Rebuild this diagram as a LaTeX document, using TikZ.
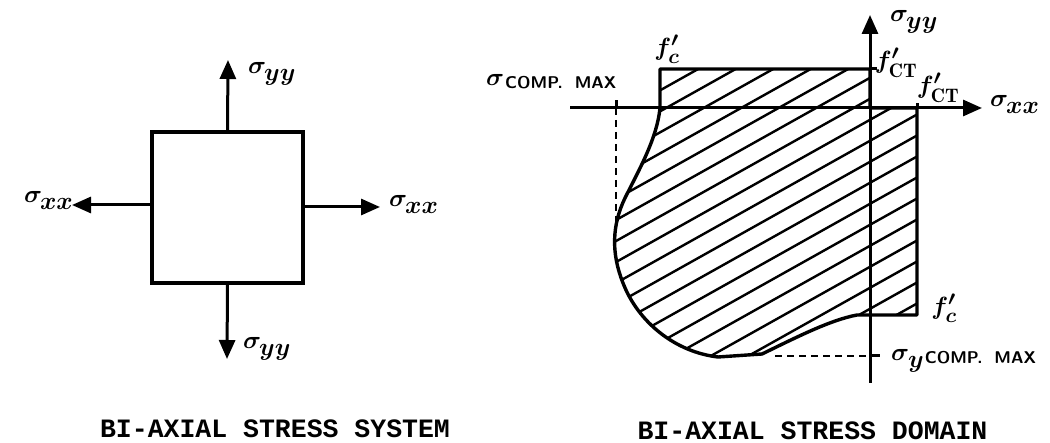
\documentclass[tikz,border=0pt]{standalone}
\usepackage{amsmath}
\usepackage{fontspec}
\setmonofont{Liberation Mono}
\usetikzlibrary{arrows.meta}
\newcommand\Sig[1]{{\fontsize{44}{44}\selectfont\boldmath$\sigma$}\kern-2pt\raisebox{-7pt}{\fontsize{30}{30}\selectfont\boldmath$#1$}}
\newcommand\Comp{\raisebox{-3pt}{\fontsize{17}{17}\selectfont\sffamily\bfseries COMP.\hspace{12pt}MAX}}
\begin{document}
\begin{tikzpicture}[x=1pt,y=-1pt,
  lbl/.style={inner sep=0pt},
  outl/.style={line width=3.4pt},
  hatchln/.style={line width=2.4pt},
  arrw/.style={line width=3pt,-{Triangle[length=19pt,width=16pt]}},
  captxt/.style={inner sep=0pt,font=\fontsize{26.5}{27}\selectfont\ttfamily\bfseries},
  tickln/.style={line width=3pt},
  dsh/.style={line width=2.4pt,dash pattern=on 7pt off 5pt}]
\useasboundingbox (0,0) rectangle (1050,443);

% ---------- left: bi-axial stress system ----------
\node[draw,outl,minimum width=151pt,minimum height=151pt,inner sep=0pt] (sq) at (227.5,207.5) {};
\coordinate (up) at (228,60);
\coordinate (dn) at (227,359);
\coordinate (lf) at (72,205);
\coordinate (rt) at (380,207);
\draw[arrw] (sq.north) -- (up);
\draw[arrw] (sq.south) -- (dn);
\draw[arrw] (sq.west |- lf) -- (lf);
\draw[arrw] (sq.east |- rt) -- (rt);
\node[lbl,anchor=west] (lyu) at (248,74) {\Sig{yy}};
\node[lbl,anchor=west] (lyd) at (243,349) {\Sig{yy}};
\node[lbl,anchor=east] (lxl) at (73,200) {\Sig{xx}};
\node[lbl,anchor=west] (lxr) at (389,204) {\Sig{xx}};
\node[captxt] (cap1) at (275,428.5) {BI-AXIAL STRESS SYSTEM};

% ---------- right: bi-axial stress domain ----------
\coordinate (A) at (660,69);
\coordinate (B) at (870,69);
\coordinate (C) at (870,108);
\coordinate (D) at (917,108);
\coordinate (E) at (917,315);
\coordinate (F) at (857,315);
\coordinate (G) at (762,354);
\coordinate (H) at (718,357);
\coordinate (K) at (660,108);
\def\domain{(A) -- (B) -- (C) -- (D) -- (E) -- (F)
  .. controls (830,320) and (795,338) .. (G)
  -- (H)
  .. controls (675,352) and (638,322) .. (623,283)
  .. controls (611,253) and (612,225) .. (625,198)
  .. controls (640,168) and (657,138) .. (K) -- cycle}
\begin{scope}
  \clip \domain;
  \foreach \c in {397,418,...,900}
    \draw[hatchln] (590,\c-0.56*590) -- (930,\c-0.56*930);
\end{scope}
\draw[outl,line join=round] \domain;

% axes
\coordinate (xa0) at (570,108);
\coordinate (xa1) at (982,108);
\coordinate (ya0) at (870,383);
\coordinate (ya1) at (870,15);
\draw[arrw] (xa0) -- (xa1);
\draw[arrw] (ya0) -- (ya1);

% ticks and dashed guides
\coordinate (tx) at (616,108);
\coordinate (txd) at (616,233);
\coordinate (ty) at (870,356);
\coordinate (tyd) at (775,356);
\draw[tickln] (tx) -- ++(0,-8);
\draw[tickln] (B) -- ++(7,0);
\draw[tickln] (ty) -- ++(10,0);
\draw[tickln] (D) -- ++(0,-5);
\draw[dsh] (tx) -- (txd);
\draw[dsh] (tyd) -- (ty);

% labels
\node[lbl,anchor=west] (ryu) at (890,22) {\Sig{yy}};
\node[lbl,anchor=west] (rxr) at (990,104) {\Sig{xx}};
\node[lbl,font=\fontsize{32}{32}\selectfont\boldmath] (fc1) at (667,49) {$f'_c$};
\node[lbl,font=\fontsize{32}{32}\selectfont\boldmath] (fc2) at (944,308) {$f'_c$};
\node[lbl,font=\fontsize{28}{28}\selectfont\boldmath] (fct1) at (896,63) {$f'_{\mathrm{CT}}$};
\node[lbl,font=\fontsize{28}{28}\selectfont\boldmath] (fct2) at (938,88) {$f'_{\mathrm{CT}}$};
\node[lbl,anchor=west] (scx) at (486,82) {{\fontsize{44}{44}\selectfont\boldmath$\sigma$}\kern1pt\Comp};
\node[lbl,anchor=west] (scy) at (891,361) {{\fontsize{42}{42}\selectfont\boldmath$\sigma$}\kern-1pt\raisebox{-7pt}{\fontsize{26}{26}\selectfont\boldmath$y$}\kern1pt\Comp};
\node[captxt] (cap2) at (812.5,430.5) {BI-AXIAL STRESS DOMAIN};
\end{tikzpicture}
\end{document}
